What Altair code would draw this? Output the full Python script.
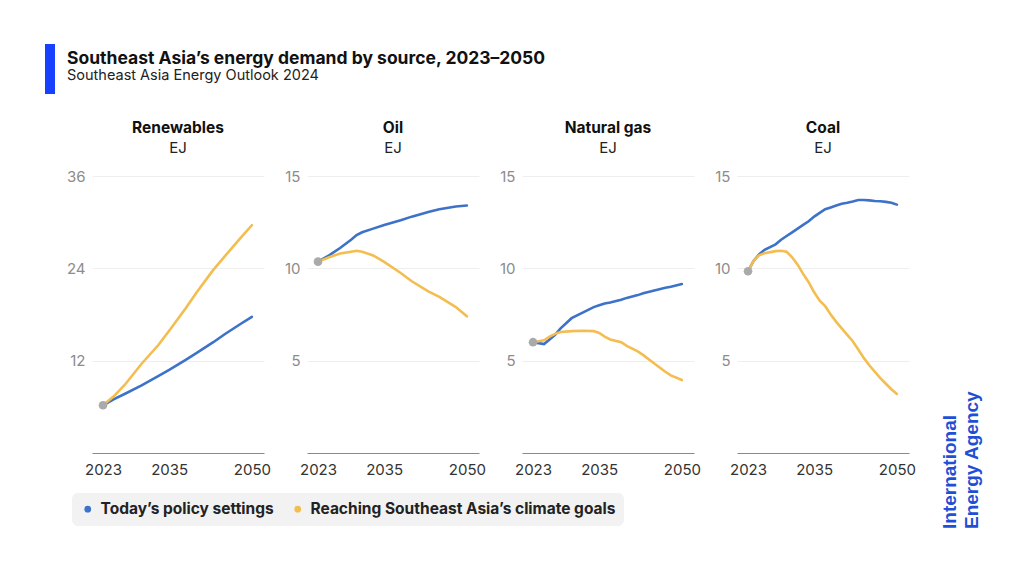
import altair as alt
import pandas as pd

TITLE = "Southeast Asia’s energy demand by source, 2023–2050"
SUBTITLE = "Southeast Asia Energy Outlook 2024"
UNIT = "EJ"
LOGO = ["International", "Energy Agency"]

panels = ["Renewables", "Oil", "Natural gas", "Coal"]
scenarios = ["Today’s policy settings", "Reaching Southeast Asia’s climate goals"]
x_ticks = [2023, 2035, 2050]

ren_years = [2023, 2025, 2027, 2030, 2033, 2035, 2038, 2040, 2043, 2045, 2048, 2050]
ren_steps = [6.2, 7.0, 7.7, 8.8, 10.0, 10.8, 12.1, 13.0, 14.4, 15.4, 16.8, 17.7]
ren_goals = [6.2, 7.4, 8.9, 11.6, 14.0, 15.9, 18.8, 20.9, 23.8, 25.5, 28.0, 29.6]

oil_years = [2023, 2025, 2027, 2029, 2030, 2031, 2033, 2035, 2038, 2040, 2043, 2045, 2048, 2050]
oil_steps = [10.36, 10.7, 11.1, 11.55, 11.8, 11.95, 12.15, 12.35, 12.6, 12.8, 13.05, 13.2, 13.35, 13.4]
oil_goals = [10.36, 10.6, 10.8, 10.9, 10.95, 10.9, 10.7, 10.35, 9.75, 9.3, 8.75, 8.45, 7.9, 7.4]

gas_years = [2023, 2024, 2025, 2026, 2027, 2028, 2030, 2032, 2034, 2035, 2036, 2037, 2039, 2040,
             2042, 2043, 2045, 2047, 2048, 2050]
gas_steps = [6.0, 5.95, 5.9, 6.15, 6.4, 6.75, 7.3, 7.6, 7.9, 8.0, 8.1, 8.15, 8.3, 8.4,
             8.55, 8.65, 8.8, 8.95, 9.0, 9.15]
gas_goals = [6.0, 6.05, 6.1, 6.3, 6.45, 6.55, 6.6, 6.62, 6.6, 6.5, 6.3, 6.15, 6.0, 5.8,
             5.5, 5.3, 4.85, 4.4, 4.2, 3.95]

coal_years = [2023, 2024, 2025, 2026, 2028, 2029, 2030, 2031, 2032, 2033, 2034, 2035, 2036, 2037,
              2038, 2039, 2040, 2041, 2042, 2043, 2044, 2045, 2046, 2047, 2048, 2049, 2050]
coal_steps = [9.84, 10.4, 10.75, 11.0, 11.3, 11.55, 11.75, 11.95, 12.15, 12.35, 12.55, 12.8, 13.0, 13.2,
              13.3, 13.4, 13.5, 13.55, 13.62, 13.7, 13.7, 13.68, 13.65, 13.63, 13.6, 13.55, 13.45]
coal_goals = [9.84, 10.4, 10.7, 10.82, 10.93, 10.95, 10.9, 10.6, 10.2, 9.7, 9.25, 8.7, 8.25, 7.95,
              7.5, 7.1, 6.75, 6.4, 6.05, 5.6, 5.15, 4.75, 4.4, 4.05, 3.75, 3.45, 3.2]

y_max = {"Renewables": 36, "Oil": 15, "Natural gas": 15, "Coal": 15}
y_ticks = {"Renewables": [12, 24, 36], "Oil": [5, 10, 15], "Natural gas": [5, 10, 15], "Coal": [5, 10, 15]}

series = {
    "Renewables": (ren_years, ren_steps, ren_goals),
    "Oil": (oil_years, oil_steps, oil_goals),
    "Natural gas": (gas_years, gas_steps, gas_goals),
    "Coal": (coal_years, coal_steps, coal_goals),
}

rows = []
for p, (yrs, s1, s2) in series.items():
    for y, v in zip(yrs, s1):
        rows.append({"panel": p, "scenario": scenarios[0], "year": y, "value": v})
    for y, v in zip(yrs, s2):
        rows.append({"panel": p, "scenario": scenarios[1], "year": y, "value": v})
df = pd.DataFrame(rows)

BLUE = "#3d72c9"
YELLOW = "#f4bd50"
FONT = "Inter"

W, H = 172, 277

color_scale = alt.Scale(domain=scenarios, range=[BLUE, YELLOW])


def make_panel(name, idx):
    d = df[df.panel == name]
    base = alt.Chart(d)
    x = alt.X("year:Q",
              scale=alt.Scale(domain=[2021, 2052.2], nice=False, zero=False),
              axis=alt.Axis(values=x_ticks, format="d", title=None, grid=False, ticks=False,
                            domain=True, domainColor="#8a8a8a", domainWidth=1,
                            labelFontSize=15, labelColor="#333333", labelPadding=9,
                            labelFont=FONT))
    y = alt.Y("value:Q",
              scale=alt.Scale(domain=[0, y_max[name]], nice=False, zero=True),
              axis=alt.Axis(values=y_ticks[name], title=None, grid=True, gridColor="#eeeeee",
                            domain=False, ticks=False, labelFontSize=15, labelColor="#8c8c8c",
                            labelPadding=7, labelFont=FONT))
    # small filled dots at the first year (hidden under the grey start dot) -> filled legend symbols
    dots = base.transform_filter(alt.datum.year == 2023).mark_circle(size=20, opacity=1).encode(
        x=x, y=y,
        color=alt.Color("scenario:N", sort=scenarios, scale=color_scale,
                        legend=alt.Legend(title=None, orient="none", legendX=-20, legendY=317,
                                          direction="horizontal", symbolType="circle",
                                          symbolSize=45, symbolStrokeWidth=0,
                                          labelFontSize=15.5, labelFontWeight="bold",
                                          labelColor="#222222", labelFont=FONT,
                                          fillColor="#f2f2f2", padding=8, cornerRadius=6,
                                          columnPadding=16, labelLimit=500, labelOffset=5)),
    )
    lines = base.mark_line(strokeWidth=2.6, strokeCap="round").encode(
        x=x, y=y,
        color=alt.Color("scenario:N", sort=scenarios, scale=color_scale, legend=None),
    )
    start = base.transform_filter(
        (alt.datum.year == 2023) & (alt.datum.scenario == scenarios[0])
    ).mark_circle(size=75, color="#aaaaaa", opacity=1).encode(x=x, y=y)
    one = pd.DataFrame({"k": [0]})
    head1 = alt.Chart(one).mark_text(text=name, align="center", baseline="middle",
                                     fontSize=15.5, fontWeight="bold", color="#111111",
                                     font=FONT).encode(x=alt.value(W / 2), y=alt.value(-48))
    head2 = alt.Chart(one).mark_text(text=UNIT, align="center", baseline="middle",
                                     fontSize=15, color="#222222",
                                     font=FONT).encode(x=alt.value(W / 2), y=alt.value(-28))
    layers = [dots, lines, start, head1, head2]
    if idx == 0:
        bar = alt.Chart(one).mark_rule(color="#1840ff", strokeWidth=10).encode(
            x=alt.value(-42), y=alt.value(-132), y2=alt.value(-82))
        t1 = alt.Chart(one).mark_text(text=TITLE, align="left", baseline="alphabetic",
                                      fontSize=17.5, fontWeight="bold", color="#111111",
                                      font=FONT).encode(x=alt.value(-25), y=alt.value(-112))
        t2 = alt.Chart(one).mark_text(text=SUBTITLE, align="left", baseline="alphabetic",
                                      fontSize=14.5, color="#222222",
                                      font=FONT).encode(x=alt.value(-25), y=alt.value(-96))
        layers += [bar, t1, t2]
    if idx == 3:
        logo = alt.Chart(one).mark_text(text=LOGO, align="left", baseline="top", angle=270,
                                        fontSize=19, fontWeight="bold", color="#1f4fd6",
                                        font="Liberation Sans", lineHeight=22).encode(
            x=alt.value(204), y=alt.value(353))
        layers.append(logo)
    return alt.layer(*layers).properties(width=W, height=H)


chart = alt.hconcat(*[make_panel(p, i) for i, p in enumerate(panels)],
                    spacing=43, bounds="flush").properties(
    padding={"left": 37, "top": 31, "right": 10, "bottom": 10},
    background="white",
).configure_view(strokeWidth=0)

chart.save("out.html", embed_options={"renderer": "svg", "actions": False})
